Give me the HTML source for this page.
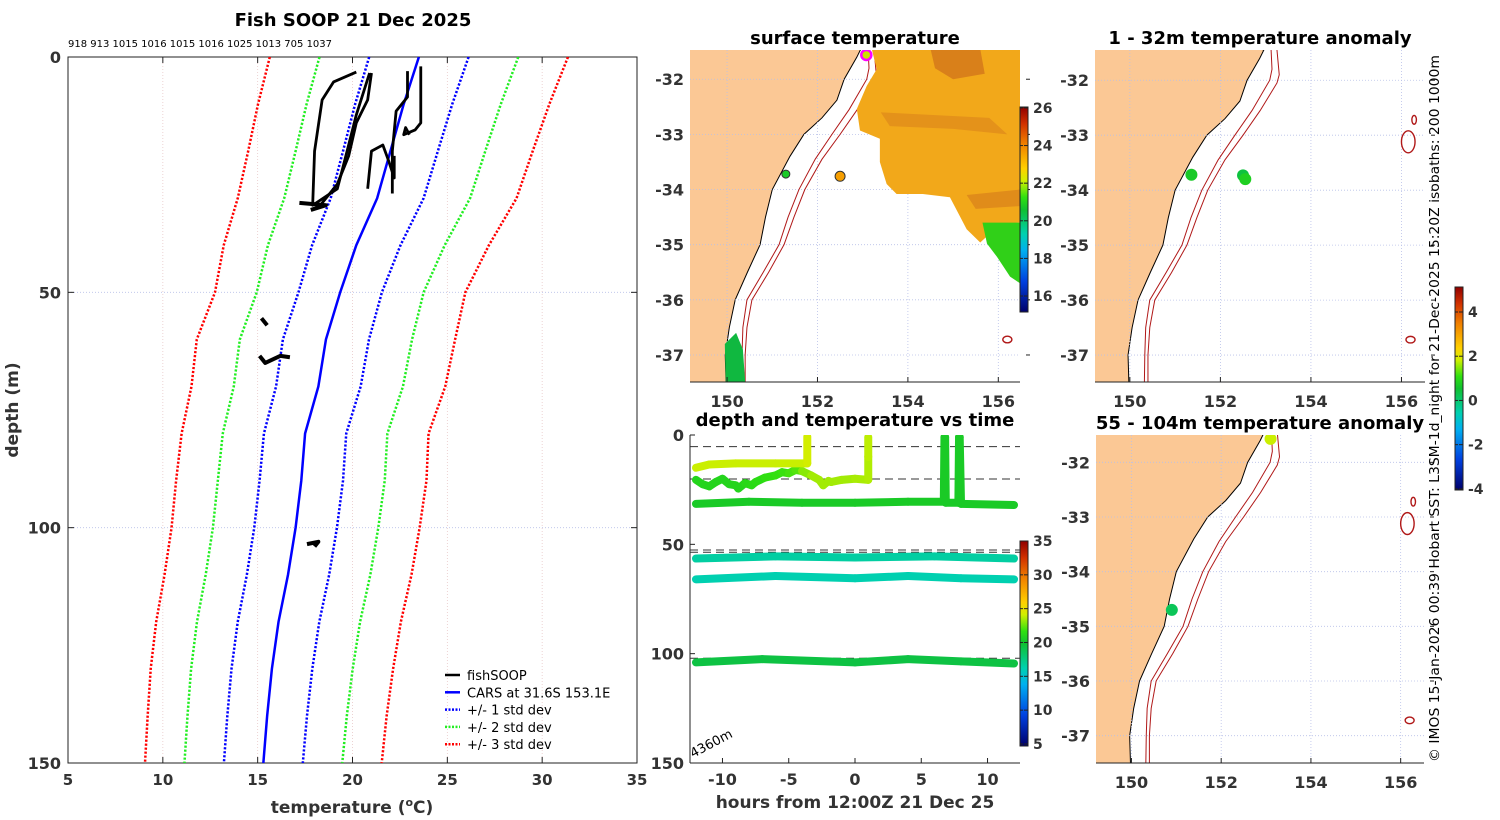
<!DOCTYPE html>
<html><head><meta charset="utf-8">
<style>
html,body{margin:0;padding:0;background:#fff;}
svg{display:block;font-family:"DejaVu Sans","Liberation Sans",sans-serif;}
.b{font-weight:bold;}
</style></head>
<body>
<svg id="fig" width="1500" height="820" viewBox="0 0 1500 820" xmlns="http://www.w3.org/2000/svg">
<defs>
<linearGradient id="cmap" x1="0" y1="1" x2="0" y2="0">
<stop offset="0" stop-color="#00006a"/><stop offset="0.15" stop-color="#0040e0"/><stop offset="0.3" stop-color="#00b0f0"/><stop offset="0.38" stop-color="#00d0b0"/><stop offset="0.5" stop-color="#10c030"/><stop offset="0.56" stop-color="#30e010"/><stop offset="0.64" stop-color="#d0f000"/><stop offset="0.7" stop-color="#ffd000"/><stop offset="0.82" stop-color="#f08000"/><stop offset="0.92" stop-color="#d03000"/><stop offset="1" stop-color="#900000"/>
</linearGradient>
<clipPath id="clipL"><rect x="68" y="57" width="569" height="706"/></clipPath>
<clipPath id="clipT"><rect x="690" y="435" width="330" height="328"/></clipPath>
</defs>
<g id="left"></g>
<g id="maps"></g>
<g id="tplot"></g>
</svg>
<script>
// ---- profile data ----
const depths = [0,10,20,30,40,50,60,70,80,90,100,110,120,130,140,150];
const carsTemp = [23.5,22.7,22.0,21.3,20.2,19.35,18.6,18.2,17.5,17.3,17.0,16.6,16.1,15.75,15.5,15.3];
const carsSd = [2.62,2.56,2.5,2.45,2.33,2.2,2.27,2.23,2.17,2.2,2.18,2.17,2.15,2.13,2.1,2.08];
const castA = [[20.2,3.2],[19.0,5.3],[18.4,9.1],[18.0,20],[17.9,31.5],[19.2,28],[19.6,21.8],[20.2,12.3],[20.9,3.4]];
const castB = [[21.0,3.4],[20.8,9.1],[20.2,14],[19.8,21],[19.2,27],[18.6,30],[18.2,32]];
const castC = [[22.9,3],[22.9,8.5],[22.3,11.5],[22.1,20],[22.1,29]];
const castD = [[23.6,2],[23.6,14],[23.3,15.5],[22.7,16.5],[22.8,15],[23.0,16.5]];
const castE = [[20.8,28],[21.0,20],[21.6,18.7],[21.9,22],[22.2,25.7],[22.2,21]];
const castBlobs = [[[17.2,31],[18.6,31.5],[17.8,32.5]],[[15.2,55.5],[15.5,57]],[[15.1,63.5],[15.4,65],[16.2,63.5],[16.7,63.8]],[[17.6,103.5],[18.2,103],[18.0,104]]];
const castCounts = "918 913 1015 1016 1015 1016 1025 1013 705 1037";
const tempTicks = [5,10,15,20,25,30,35];
const depthTicks = [0,50,100,150];

// ---- time plot data ----
const hourTicks = [-10,-5,0,5,10];
const tDepthTicks = [0,50,100,150];
const serA_h = [-12,-11,-9,-6,-3.7,-3.6,-3.6];
const serA_d = [15,13.5,13,13,13,13,0.8];
const serA_t = [24,24,24,24,24,24,24.2];
const serB_h = [-12,-11.5,-11,-10.5,-10,-9.5,-9,-8.8,-8.3,-7.8,-7.5,-6.8,-6,-5.5,-5,-4.5,-4,-3.3,-2.7,-2.4,-2,-1.8,-1,0,1,1,1];
const serB_d = [20.5,22.5,23.5,21.5,20,22.5,23,24.5,22,23,21.5,19.5,18.5,17,17.5,16,16.5,18.5,20.5,23,21,21.5,20.5,20,20.5,10,1];
const serB_t = [21,21,21,21,21,21,21,21,21,21.2,21.3,21.4,21.6,21.7,21.8,22,22.2,23,23.4,23.4,23.4,23.4,23.4,23.4,23.5,23.6,23.8];
const serC_h = [-12,-8,-4,0,4,6.7,6.75,6.8,6.85,7.8,7.85,7.9,8,12];
const serC_d = [31.5,30.5,31,31,30.5,30.5,1,1,31,31,1,1,31.5,32];
const serC_t = [20.4,20.4,20.4,20.4,20.4,20.4,20.4,20.4,20.4,20.4,20.4,20.4,20.4,20.4];
const serD_h = [-12,-6,0,6,12];
const serD_d = [56.5,55.5,56,55.5,56.5];
const serD_t = [16.6,16.6,16.6,16.6,16.6];
const serE_h = [-12,-6,0,4,8,12];
const serE_d = [66,64.5,65.5,64.5,65.5,66];
const serE_t = [16.2,16.2,16.2,16.2,16.2,16.2];
const serF_h = [-12,-7,0,4,8,12];
const serF_d = [104,102.5,104,102.5,103.5,104.5];
const serF_t = [19.3,19.3,19.3,19.3,19.3,19.3];
const refDepths = [5.3,20.1,52.6,53.6,102.1];

// ---- map data (lon, lat) ----
const coast = [[152.96,-31.45],[152.87,-31.6],[152.59,-32.0],[152.43,-32.38],[152.1,-32.7],[151.7,-33.0],[151.39,-33.4],[151.0,-34.0],[150.85,-34.5],[150.73,-35.0],[150.45,-35.5],[150.18,-36.0],[150.05,-36.5],[149.96,-37.0],[149.98,-37.55]];
const iso200 = [[153.12,-31.45],[153.14,-31.8],[153.09,-32.0],[152.7,-32.55],[152.32,-33.0],[151.95,-33.45],[151.59,-34.0],[151.35,-34.5],[151.15,-35.0],[150.8,-35.5],[150.44,-36.0],[150.35,-36.5],[150.33,-37.0],[150.32,-37.55]];
const iso1000 = [[153.25,-31.45],[153.3,-31.9],[153.25,-32.05],[152.88,-32.55],[152.5,-33.0],[152.1,-33.45],[151.72,-34.0],[151.48,-34.5],[151.26,-35.0],[150.92,-35.5],[150.55,-36.0],[150.44,-36.5],[150.4,-37.0],[150.4,-37.55]];
const seamounts = [[156.28,-32.72,0.05,0.08],[156.15,-33.12,0.15,0.2],[156.2,-36.72,0.1,0.06]];
const sstPoly = [[153.05,-31.45],[156.48,-31.45],[156.48,-34.6],[156.04,-34.63],[155.6,-34.96],[155.3,-34.72],[155.16,-34.5],[154.93,-34.14],[154.33,-34.08],[153.75,-34.08],[153.53,-33.9],[153.38,-33.5],[153.38,-33.08],[152.94,-32.93],[152.87,-32.54],[153.09,-32.12],[153.31,-31.82],[153.2,-31.45]];
const sstWarm = [[154.5,-31.45],[155.6,-31.45],[155.7,-31.9],[155.0,-32.0],[154.6,-31.8]];
const sstBand = [[153.4,-32.6],[155.8,-32.7],[156.2,-33.0],[155.0,-32.9],[153.6,-32.85]];
const sstBand2 = [[155.3,-34.1],[156.48,-34.0],[156.48,-34.3],[155.5,-34.35]];
const sstGreen = [[155.65,-34.6],[156.48,-34.6],[156.48,-35.7],[156.26,-35.58],[155.97,-35.22],[155.75,-34.98]];
const sstCoastal = [[149.95,-36.8],[150.2,-36.6],[150.35,-36.9],[150.4,-37.49],[149.97,-37.49]];
const sstMarkers = [[151.3,-33.72,20.8,4],[152.5,-33.76,23.6,5]];
const shipPos = [153.08,-31.56];
const anomTop = [[151.36,-33.72,0.7],[152.5,-33.73,0.4],[152.55,-33.8,0.8]];
const anomBot = [[150.9,-34.7,0.2],[153.1,-31.57,1.8]];

const NS='http://www.w3.org/2000/svg';
function el(tag, attrs, parent, text){const e=document.createElementNS(NS,tag);for(const k in attrs)e.setAttribute(k,attrs[k]);if(text!==undefined)e.textContent=text;parent.appendChild(e);return e;}
function cmapColor(t){t=Math.max(0,Math.min(1,t));const st=[[0,[0,0,106]],[0.15,[0,64,224]],[0.3,[0,176,240]],[0.38,[0,208,176]],[0.5,[16,192,48]],[0.56,[48,224,16]],[0.64,[208,240,0]],[0.7,[255,208,0]],[0.82,[240,128,0]],[0.92,[208,48,0]],[1,[144,0,0]]];for(let i=1;i<st.length;i++){if(t<=st[i][0]){const a=st[i-1],b=st[i],f=(t-a[0])/(b[0]-a[0]);const c=a[1].map((v,j)=>Math.round(v+(b[1][j]-v)*f));return `rgb(${c[0]},${c[1]},${c[2]})`;}}return 'rgb(144,0,0)';}

// ================= LEFT PROFILE PANEL =================
const L=document.getElementById('left');
const X0=68,X1=637,Y0=57,Y1=763;
const xT=t=>X0+(t-5)*(X1-X0)/30;
const yD=d=>Y0+d*(Y1-Y0)/150;
let e;
e=el('text',{x:353,y:26,'text-anchor':'middle','font-size':18,class:'b'},L,'Fish SOOP 21 Dec 2025');

e=el('text',{x:68,y:47,'font-size':10},L,castCounts);

tempTicks.forEach(t=>{
  if(t>5&&t<35){e=el('line',{x1:xT(t),x2:xT(t),y1:Y0,y2:Y1,stroke:'#e8c8c8','stroke-width':0.8,'stroke-dasharray':'1,2'},L);
  
  el('line',{x1:xT(t),x2:xT(t),y1:Y0,y2:Y0+6,stroke:'#222'},L);el('line',{x1:xT(t),x2:xT(t),y1:Y1,y2:Y1-6,stroke:'#222'},L);}
  e=el('text',{x:xT(t),y:785,'text-anchor':'middle','font-size':15,class:'b',fill:'#333'},L,String(t));
  
});
depthTicks.forEach(d=>{
  if(d>0&&d<150){e=el('line',{x1:X0,x2:X1,y1:yD(d),y2:yD(d),stroke:'#b8c0e8','stroke-width':0.8,'stroke-dasharray':'1,2'},L);
  
  el('line',{x1:X0,x2:X0+6,y1:yD(d),y2:yD(d),stroke:'#222'},L);el('line',{x1:X1,x2:X1-6,y1:yD(d),y2:yD(d),stroke:'#222'},L);}
  e=el('text',{x:61,y:yD(d)+6,'text-anchor':'end','font-size':16,class:'b',fill:'#333'},L,String(d));
  
});
e=el('rect',{x:X0,y:Y0,width:X1-X0,height:Y1-Y0,fill:'none',stroke:'#222','stroke-width':1},L);

e=el('text',{x:352,y:813,'text-anchor':'middle','font-size':17,class:'b',fill:'#333'},L);
e.innerHTML='temperature (<tspan font-size="11" dy="-7">o</tspan><tspan dy="7">C)</tspan>';

e=el('text',{x:18,y:410,'text-anchor':'middle','font-size':17,class:'b',fill:'#333',transform:'rotate(-90 18 410)'},L,'depth (m)');

const gp=el('g',{'clip-path':'url(#clipL)'},L);
const sdCols=['#0000ff','#22ee22','#ff0000'];
[3,2,1].forEach(k=>{[-1,1].forEach(s=>{
  const pts=depths.map((d,i)=>xT(carsTemp[i]+s*k*carsSd[i])+','+yD(d)).join(' ');
  e=el('polyline',{points:pts,fill:'none',stroke:sdCols[k-1],'stroke-width':2.5,'stroke-dasharray':'2.2,1.8'},gp);
  
});});
e=el('polyline',{points:depths.map((d,i)=>xT(carsTemp[i])+','+yD(d)).join(' '),fill:'none',stroke:'#0000ff','stroke-width':2.5},gp);

[castA,castB,castC,castD,castE].forEach((c,i)=>{
  e=el('polyline',{points:c.map(p=>xT(p[0])+','+yD(p[1])).join(' '),fill:'none',stroke:'#000','stroke-width':2.8,'stroke-linejoin':'round'},gp);
  
});
castBlobs.forEach(c=>{
  e=el('polyline',{points:c.map(p=>xT(p[0])+','+yD(p[1])).join(' '),fill:'none',stroke:'#000','stroke-width':4,'stroke-linejoin':'round'},gp);
  
});
const leg=[['fishSOOP','#000',null],['CARS at 31.6S 153.1E','#0000ff',null],['+/- 1 std dev','#0000ff','2,1.5'],['+/- 2 std dev','#22ee22','2,1.5'],['+/- 3 std dev','#ff0000','2,1.5']];
leg.forEach((l,i)=>{const y=675+i*17.3;
  const g=el('g',{},L);
  const a={x1:445,x2:460,y1:y,y2:y,stroke:l[1],'stroke-width':2.5};if(l[2])a['stroke-dasharray']=l[2];el('line',a,g);
  el('text',{x:467,y:y+5,'font-size':13},g,l[0]);
});

// ================= MAPS =================
const M=document.getElementById('maps');
function makeMap(name,ax,lon0,lon1,lat0,lat1,title,showX){
  const g=el('g',{},M);
  const cid='clip-'+name;const cp=el('clipPath',{id:cid},g);
  el('rect',{x:ax[0],y:ax[1],width:ax[2],height:ax[3]},cp);
  const px=lo=>ax[0]+(lo-lon0)/(lon1-lon0)*ax[2];
  const py=la=>ax[1]+(lat0-la)/(lat0-lat1)*ax[3];
  const inner=el('g',{'clip-path':'url(#'+cid+')'},g);
  const land=[[lon0-1,lat0+1]].concat(coast).concat([[lon0-1,lat1-1]]);
  e=el('polygon',{points:land.map(p=>px(p[0])+','+py(p[1])).join(' '),fill:'#fbc895',stroke:'#000','stroke-width':1},inner);
  
  [150,152,154,156].forEach(lo=>{el('line',{x1:px(lo),x2:px(lo),y1:ax[1],y2:ax[1]+ax[3],stroke:'#b8c0e8','stroke-width':0.8,'stroke-dasharray':'1,2'},inner);});
  [-32,-33,-34,-35,-36,-37].forEach(la=>{el('line',{x1:ax[0],x2:ax[0]+ax[2],y1:py(la),y2:py(la),stroke:'#b8c0e8','stroke-width':0.8,'stroke-dasharray':'1,2'},inner);});
  [iso200,iso1000].forEach((iso,i)=>{e=el('polyline',{points:iso.map(p=>px(p[0])+','+py(p[1])).join(' '),fill:'none',stroke:'#b01818','stroke-width':1},inner);
    });
  seamounts.forEach(s=>{e=el('ellipse',{cx:px(s[0]),cy:py(s[1]),rx:s[2]*(ax[2]/(lon1-lon0)),ry:s[3]*(ax[3]/(lat0-lat1)),fill:'none',stroke:'#b01818','stroke-width':1.4},inner);
    });
  el('line',{x1:ax[0],x2:ax[0]+ax[2],y1:ax[1]+ax[3],y2:ax[1]+ax[3],stroke:'#222'},g);
  [150,152,154,156].forEach(lo=>{el('line',{x1:px(lo),x2:px(lo),y1:ax[1]+ax[3],y2:ax[1]+ax[3]-5,stroke:'#222'},g);
    if(showX){e=el('text',{x:px(lo),y:ax[1]+ax[3]+25,'text-anchor':'middle','font-size':16,class:'b',fill:'#333'},g,String(lo));}});
  [-32,-33,-34,-35,-36,-37].forEach(la=>{e=el('text',{x:ax[0]-6,y:py(la)+6,'text-anchor':'end','font-size':16,class:'b',fill:'#333'},g,String(la));
    
    el('line',{x1:ax[0]+ax[2]+6,x2:ax[0]+ax[2]+10,y1:py(la),y2:py(la),stroke:'#222'},g);});
  e=el('text',{x:ax[0]+ax[2]/2,y:ax[1]-6,'text-anchor':'middle','font-size':18,class:'b'},g,title);
  
  return {g:inner,px,py};
}
const sst=makeMap('sst-map',[690,50,330,332],149.18,156.48,-31.47,-37.49,'surface temperature',true);
const poly=(arr,fill,name,m)=>{e=el('polygon',{points:arr.map(p=>m.px(p[0])+','+m.py(p[1])).join(' '),fill:fill},m.g);};
poly(sstPoly,'#f2a81a','sst-field',sst);
poly(sstWarm,'#d9801a','sst-warm-core',sst);
poly(sstBand,'#e4921a','sst-warm-band',sst);
poly(sstBand2,'#e08c1a','sst-warm-band-2',sst);
poly(sstGreen,'#30d018','sst-cool-patch',sst);
poly(sstCoastal,'#10b840','sst-coastal-patch',sst);
sstMarkers.forEach(m=>{e=el('circle',{cx:sst.px(m[0]),cy:sst.py(m[1]),r:m[3],fill:cmapColor((m[2]-15.15)/(26.05-15.15)),stroke:'#333','stroke-width':1},sst.g);
  });
e=el('circle',{cx:sst.px(shipPos[0]),cy:sst.py(shipPos[1]),r:5,fill:'#c8e000',stroke:'#ff00ff','stroke-width':2.5},sst.g);

function colorbar(x,y0,y1,v0,v1,ticks,name){
  const g=el('g',{},M);
  el('rect',{x:x,y:y0,width:8,height:y1-y0,fill:'url(#cmap)',stroke:'#222','stroke-width':1},g);
  ticks.forEach(t=>{const y=y1-(t-v0)/(v1-v0)*(y1-y0);
    el('line',{x1:x+8,x2:x+4,y1:y,y2:y,stroke:'#222'},g);el('line',{x1:x,x2:x+3,y1:y,y2:y,stroke:'#222'},g);
    e=el('text',{x:x+13,y:y+5,'font-size':14,class:'b',fill:'#333'},g,String(t));});
}
colorbar(1020,107,312,15.15,26.05,[16,18,20,22,24,26],'sst-colorbar');
const a1=makeMap('anomaly-map-1-32m',[1095,50,330,332],149.23,156.52,-31.45,-37.49,'1 - 32m temperature anomaly',true);
anomTop.forEach(p=>{e=el('circle',{cx:a1.px(p[0]),cy:a1.py(p[1]),r:6,fill:cmapColor((p[2]+4.05)/9.18)},a1.g);});
const a2=makeMap('anomaly-map-55-104m',[1096,435,328,328],149.21,156.52,-31.5,-37.5,'55 - 104m temperature anomaly',true);
anomBot.forEach(p=>{e=el('circle',{cx:a2.px(p[0]),cy:a2.py(p[1]),r:6,fill:cmapColor((p[2]+4.05)/9.18)},a2.g);});
colorbar(1455,287,490,-4.05,5.13,[-4,-2,0,2,4],'anomaly-colorbar');
e=el('text',{x:1439,y:762,'font-size':13,textLength:707,lengthAdjust:'spacingAndGlyphs',transform:'rotate(-90 1439 762)'},M,'© IMOS 15-Jan-2026 00:39 Hobart SST: L3SM-1d_night for 21-Dec-2025 15:20Z isobaths: 200  1000m');


// ================= TIME PLOT =================
const T=document.getElementById('tplot');
const TX0=690,TX1=1020,TY0=435,TY1=763;
const xH=h=>TX0+(h+12.45)*(TX1-TX0)/24.9;
const yT=d=>TY0+d*(TY1-TY0)/150;
e=el('text',{x:855,y:426,'text-anchor':'middle','font-size':18,class:'b'},T,'depth and temperature vs time');

el('line',{x1:TX0,x2:TX0,y1:TY0,y2:TY1,stroke:'#222'},T);el('line',{x1:TX0,x2:TX1,y1:TY1,y2:TY1,stroke:'#222'},T);
hourTicks.forEach(h=>{el('line',{x1:xH(h),x2:xH(h),y1:TY1,y2:TY1-5,stroke:'#222'},T);
  e=el('text',{x:xH(h),y:785,'text-anchor':'middle','font-size':16,class:'b',fill:'#333'},T,String(h));});
tDepthTicks.forEach(d=>{el('line',{x1:TX0,x2:TX0+5,y1:yT(d),y2:yT(d),stroke:'#222'},T);
  e=el('text',{x:684,y:yT(d)+6,'text-anchor':'end','font-size':16,class:'b',fill:'#333'},T,String(d));});
e=el('text',{x:855,y:808,'text-anchor':'middle','font-size':17,class:'b',fill:'#333'},T,'hours from 12:00Z 21 Dec 25');

const tg=el('g',{'clip-path':'url(#clipT)'},T);
refDepths.forEach(d=>{e=el('line',{x1:TX0,x2:TX1,y1:yT(d),y2:yT(d),stroke:'#333','stroke-width':1,'stroke-dasharray':'8,5'},tg);});
const tc=t=>cmapColor((t-4.7)/(35-4.7));
function series(hs,ds,ts,name){for(let i=1;i<hs.length;i++){
  e=el('line',{x1:xH(hs[i-1]),y1:yT(ds[i-1]),x2:xH(hs[i]),y2:yT(ds[i]),stroke:tc(ts[i]),'stroke-width':8,'stroke-linecap':'round'},tg);
  }}
series(serC_h,serC_d,serC_t,'sensor-series-31m');
series(serB_h,serB_d,serB_t,'sensor-series-20m');
series(serA_h,serA_d,serA_t,'sensor-series-13m');
series(serD_h,serD_d,serD_t,'sensor-series-56m');
series(serE_h,serE_d,serE_t,'sensor-series-65m');
series(serF_h,serF_d,serF_t,'sensor-series-104m');
e=el('text',{x:693,y:758,'font-size':13,transform:'rotate(-28 693 758)'},T,'4360m');

colorbar(1020,541,746,4.7,35,[5,10,15,20,25,30,35],'time-colorbar');
</script>
</body></html>
